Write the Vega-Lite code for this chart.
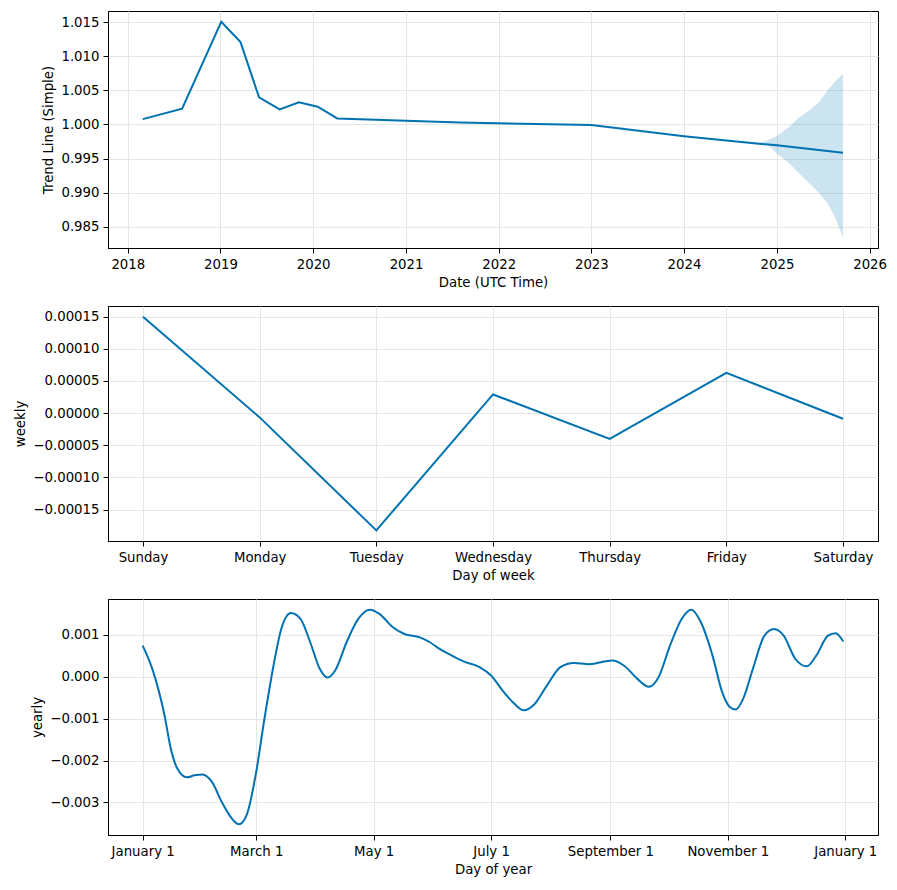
{
  "$schema": "https://vega.github.io/schema/vega-lite/v6.json",
  "padding": {"left": 13, "top": 10, "right": 5, "bottom": 5},
  "spacing": 15,
  "config": {
    "font": "DejaVu Sans",
    "view": {"stroke": "#000000", "strokeWidth": 1},
    "axis": {
      "labelFont": "DejaVu Sans", "labelFontSize": 13.3, "labelColor": "#000000",
      "titleFont": "DejaVu Sans", "titleFontSize": 13.3, "titleFontWeight": "normal", "titleColor": "#000000",
      "domainColor": "#000000", "tickColor": "#000000", "tickSize": 5, "labelPadding": 4, "titlePadding": 5,
      "gridColor": "#e6e6e6", "gridWidth": 1, "labelFlush": false, "labelOverlap": false
    },
    "line": {"color": "#0072B2", "strokeWidth": 2}
  },
  "datasets": {
    "trend": [
      {"ds": "2018-03-01", "trend": 1.00078},
      {"ds": "2018-08-03", "trend": 1.00231},
      {"ds": "2019-01-04", "trend": 1.01504},
      {"ds": "2019-03-21", "trend": 1.01206},
      {"ds": "2019-06-02", "trend": 1.00397},
      {"ds": "2019-08-22", "trend": 1.0022},
      {"ds": "2019-11-06", "trend": 1.00324},
      {"ds": "2020-01-19", "trend": 1.0026},
      {"ds": "2020-04-05", "trend": 1.00088},
      {"ds": "2021-08-01", "trend": 1.00028},
      {"ds": "2023-01-01", "trend": 0.99992},
      {"ds": "2024-01-01", "trend": 0.99828},
      {"ds": "2024-10-12", "trend": 0.9972},
      {"ds": "2025-01-01", "trend": 0.99696},
      {"ds": "2025-09-18", "trend": 0.99585}
    ],
    "band": [
      {"ds": "2024-10-12", "lower": 0.9972, "upper": 0.9972},
      {"ds": "2024-11-27", "lower": 0.99701, "upper": 0.9977},
      {"ds": "2025-01-01", "lower": 0.99574, "upper": 0.99833},
      {"ds": "2025-02-15", "lower": 0.99441, "upper": 0.99956},
      {"ds": "2025-03-27", "lower": 0.99294, "upper": 1.00093},
      {"ds": "2025-05-06", "lower": 0.99147, "upper": 1.00201},
      {"ds": "2025-06-15", "lower": 0.99, "upper": 1.00324},
      {"ds": "2025-07-18", "lower": 0.98853, "upper": 1.00495},
      {"ds": "2025-08-19", "lower": 0.98632, "upper": 1.00632},
      {"ds": "2025-09-18", "lower": 0.98348, "upper": 1.0074}
    ],
    "weekly": [
      {"day": "Sunday", "weekly": 0.00015},
      {"day": "Monday", "weekly": -0.0000067},
      {"day": "Tuesday", "weekly": -0.0001825},
      {"day": "Wednesday", "weekly": 0.000029},
      {"day": "Thursday", "weekly": -0.0000403},
      {"day": "Friday", "weekly": 0.0000626},
      {"day": "Saturday", "weekly": -0.0000088}
    ],
    "yearly": [
      {"ds": "2017-01-01", "yearly": 0.000745},
      {"ds": "2017-01-06", "yearly": 0.00019},
      {"ds": "2017-01-12", "yearly": -0.00084},
      {"ds": "2017-01-16", "yearly": -0.00179},
      {"ds": "2017-01-19", "yearly": -0.00219},
      {"ds": "2017-01-24", "yearly": -0.0024},
      {"ds": "2017-01-28", "yearly": -0.00235},
      {"ds": "2017-02-01", "yearly": -0.00233},
      {"ds": "2017-02-06", "yearly": -0.00251},
      {"ds": "2017-02-11", "yearly": -0.00298},
      {"ds": "2017-02-17", "yearly": -0.00342},
      {"ds": "2017-02-20", "yearly": -0.00352},
      {"ds": "2017-02-24", "yearly": -0.0033},
      {"ds": "2017-03-01", "yearly": -0.00227},
      {"ds": "2017-03-05", "yearly": -0.00108},
      {"ds": "2017-03-10", "yearly": 0.00027},
      {"ds": "2017-03-14", "yearly": 0.00114},
      {"ds": "2017-03-19", "yearly": 0.00152},
      {"ds": "2017-03-24", "yearly": 0.00138},
      {"ds": "2017-03-29", "yearly": 0.00083},
      {"ds": "2017-04-03", "yearly": 0.00019},
      {"ds": "2017-04-07", "yearly": -0.00002},
      {"ds": "2017-04-11", "yearly": 0.00015},
      {"ds": "2017-04-17", "yearly": 0.00083},
      {"ds": "2017-04-23", "yearly": 0.00138},
      {"ds": "2017-04-29", "yearly": 0.0016},
      {"ds": "2017-05-04", "yearly": 0.0015},
      {"ds": "2017-05-11", "yearly": 0.00118},
      {"ds": "2017-05-17", "yearly": 0.00102},
      {"ds": "2017-05-25", "yearly": 0.00094},
      {"ds": "2017-05-30", "yearly": 0.00083},
      {"ds": "2017-06-04", "yearly": 0.00067},
      {"ds": "2017-06-10", "yearly": 0.00052},
      {"ds": "2017-06-17", "yearly": 0.00036},
      {"ds": "2017-06-25", "yearly": 0.00023},
      {"ds": "2017-07-01", "yearly": 0.00003},
      {"ds": "2017-07-07", "yearly": -0.00033},
      {"ds": "2017-07-13", "yearly": -0.00064},
      {"ds": "2017-07-18", "yearly": -0.0008},
      {"ds": "2017-07-23", "yearly": -0.00068},
      {"ds": "2017-07-30", "yearly": -0.00021},
      {"ds": "2017-08-06", "yearly": 0.00023},
      {"ds": "2017-08-13", "yearly": 0.00033},
      {"ds": "2017-08-21", "yearly": 0.0003},
      {"ds": "2017-09-02", "yearly": 0.00039},
      {"ds": "2017-09-08", "yearly": 0.00027},
      {"ds": "2017-09-15", "yearly": -0.00005},
      {"ds": "2017-09-21", "yearly": -0.00024},
      {"ds": "2017-09-26", "yearly": -0.00001},
      {"ds": "2017-10-02", "yearly": 0.00075},
      {"ds": "2017-10-08", "yearly": 0.00138},
      {"ds": "2017-10-13", "yearly": 0.0016},
      {"ds": "2017-10-18", "yearly": 0.0013},
      {"ds": "2017-10-24", "yearly": 0.00051},
      {"ds": "2017-10-29", "yearly": -0.00036},
      {"ds": "2017-11-02", "yearly": -0.00072},
      {"ds": "2017-11-05", "yearly": -0.00078},
      {"ds": "2017-11-09", "yearly": -0.00052},
      {"ds": "2017-11-14", "yearly": 0.00019},
      {"ds": "2017-11-20", "yearly": 0.00098},
      {"ds": "2017-11-25", "yearly": 0.00114},
      {"ds": "2017-11-30", "yearly": 0.00098},
      {"ds": "2017-12-06", "yearly": 0.00043},
      {"ds": "2017-12-12", "yearly": 0.00025},
      {"ds": "2017-12-17", "yearly": 0.00051},
      {"ds": "2017-12-23", "yearly": 0.00098},
      {"ds": "2017-12-27", "yearly": 0.00104},
      {"ds": "2017-12-31", "yearly": 0.00084}
    ]
  },
  "vconcat": [
    {
      "width": 770,
      "height": 237,
      "layer": [
        {
          "data": {"name": "band"},
          "mark": {"type": "area", "color": "#0072B2", "opacity": 0.2},
          "encoding": {
            "x": {"field": "ds", "type": "temporal",
                  "scale": {"type": "utc", "domain": [{"year": 2017, "month": 10, "date": 15, "utc": true}, {"year": 2026, "month": 2, "date": 3, "utc": true}]},
                  "axis": {"title": "Date (UTC Time)", "grid": true, "format": "%Y",
                           "values": [{"year": 2018, "month": 1, "date": 1, "utc": true}, {"year": 2019, "month": 1, "date": 1, "utc": true}, {"year": 2020, "month": 1, "date": 1, "utc": true}, {"year": 2021, "month": 1, "date": 1, "utc": true}, {"year": 2022, "month": 1, "date": 1, "utc": true}, {"year": 2023, "month": 1, "date": 1, "utc": true}, {"year": 2024, "month": 1, "date": 1, "utc": true}, {"year": 2025, "month": 1, "date": 1, "utc": true}, {"year": 2026, "month": 1, "date": 1, "utc": true}]}},
            "y": {"field": "lower", "type": "quantitative",
                  "scale": {"domain": [0.9819, 1.01662], "nice": false, "zero": false},
                  "axis": {"title": "Trend Line (Simple)", "grid": true, "format": ".3f", "labelOverlap": false,
                           "values": [0.985, 0.99, 0.995, 1.0, 1.005, 1.01, 1.015]}},
            "y2": {"field": "upper"}
          }
        },
        {
          "data": {"name": "trend"},
          "mark": {"type": "line", "color": "#0072B2", "strokeWidth": 2},
          "encoding": {
            "x": {"field": "ds", "type": "temporal",
                  "scale": {"type": "utc", "domain": [{"year": 2017, "month": 10, "date": 15, "utc": true}, {"year": 2026, "month": 2, "date": 3, "utc": true}]},
                  "axis": {"title": "Date (UTC Time)", "grid": true, "format": "%Y",
                           "values": [{"year": 2018, "month": 1, "date": 1, "utc": true}, {"year": 2019, "month": 1, "date": 1, "utc": true}, {"year": 2020, "month": 1, "date": 1, "utc": true}, {"year": 2021, "month": 1, "date": 1, "utc": true}, {"year": 2022, "month": 1, "date": 1, "utc": true}, {"year": 2023, "month": 1, "date": 1, "utc": true}, {"year": 2024, "month": 1, "date": 1, "utc": true}, {"year": 2025, "month": 1, "date": 1, "utc": true}, {"year": 2026, "month": 1, "date": 1, "utc": true}]}},
            "y": {"field": "trend", "type": "quantitative",
                  "scale": {"domain": [0.9819, 1.01662], "nice": false, "zero": false},
                  "axis": {"title": "Trend Line (Simple)", "grid": true, "format": ".3f", "labelOverlap": false,
                           "values": [0.985, 0.99, 0.995, 1.0, 1.005, 1.01, 1.015]}}
          }
        }
      ]
    },
    {
      "width": 770,
      "height": 235,
      "data": {"name": "weekly"},
      "mark": {"type": "line", "color": "#0072B2", "strokeWidth": 2},
      "encoding": {
        "x": {"field": "day", "type": "ordinal",
              "sort": ["Sunday", "Monday", "Tuesday", "Wednesday", "Thursday", "Friday", "Saturday"],
              "scale": {"type": "point", "padding": 0.3},
              "axis": {"title": "Day of week", "grid": true, "labelAngle": 0}},
        "y": {"field": "weekly", "type": "quantitative",
              "scale": {"domain": [-0.000199, 0.0001666], "nice": false, "zero": false},
              "axis": {"title": "weekly", "grid": true, "format": ".5f",
                       "values": [-0.00015, -0.0001, -0.00005, 0, 0.00005, 0.0001, 0.00015]}}
      }
    },
    {
      "width": 770,
      "height": 236,
      "data": {"name": "yearly"},
      "mark": {"type": "line", "color": "#0072B2", "strokeWidth": 2, "interpolate": "monotone"},
      "encoding": {
        "x": {"field": "ds", "type": "temporal",
              "scale": {"type": "utc", "domain": [{"year": 2016, "month": 12, "date": 14, "utc": true}, {"year": 2018, "month": 1, "date": 18, "utc": true}]},
              "axis": {"title": "Day of year", "grid": true, "format": "%B %-d",
                       "values": [{"year": 2017, "month": 1, "date": 1, "utc": true}, {"year": 2017, "month": 3, "date": 1, "utc": true}, {"year": 2017, "month": 5, "date": 1, "utc": true}, {"year": 2017, "month": 7, "date": 1, "utc": true}, {"year": 2017, "month": 9, "date": 1, "utc": true}, {"year": 2017, "month": 11, "date": 1, "utc": true}, {"year": 2018, "month": 1, "date": 1, "utc": true}]}},
        "y": {"field": "yearly", "type": "quantitative",
              "scale": {"domain": [-0.003776, 0.001856], "nice": false, "zero": false},
              "axis": {"title": "yearly", "grid": true, "format": ".3f",
                       "values": [-0.003, -0.002, -0.001, 0, 0.001]}}
      }
    }
  ]
}
